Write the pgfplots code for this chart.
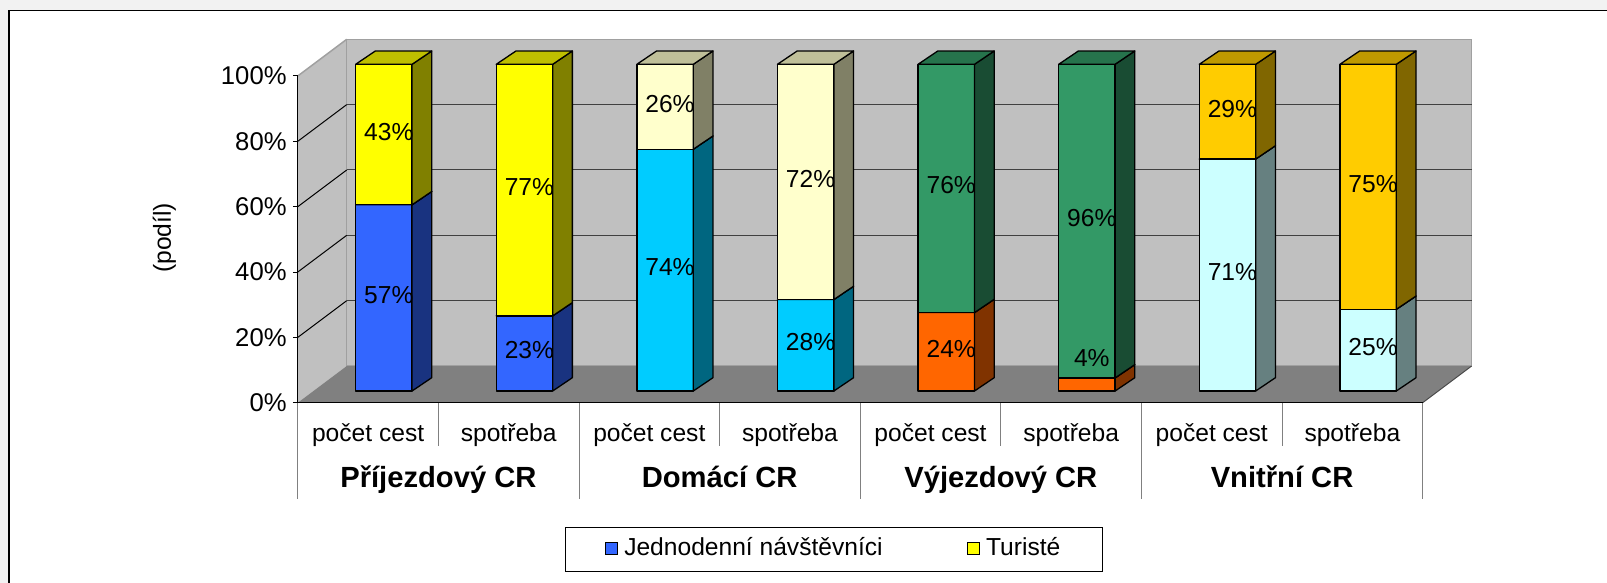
\documentclass[border=0pt]{standalone}
\usepackage{fontspec}
\setmainfont{Liberation Sans}
\usepackage{pgfplots}
\pgfplotsset{compat=1.18}

\definecolor{cB}{HTML}{3366FF}
\definecolor{cY}{HTML}{FFFF00}
\definecolor{cC}{HTML}{00CCFF}
\definecolor{cLY}{HTML}{FFFFCC}
\definecolor{cG}{HTML}{339966}
\definecolor{cO}{HTML}{FF6600}
\definecolor{cLC}{HTML}{CCFFFF}
\definecolor{cGo}{HTML}{FFCC00}
\definecolor{wallc}{HTML}{C0C0C0}
\definecolor{floorc}{HTML}{808080}
\definecolor{wedge}{HTML}{A0A0A0}

\newcommand{\fs}{\fontsize{7}{8.4}\selectfont}
\newcommand{\fst}{\fontsize{7.3}{8.8}\selectfont}

% faces of one segment of a 3D bar: #1 category, #2 bottom, #3 top, #4 colour
\newcommand{\segshape}[4]{%
  \pgfmathsetmacro{\xl}{#1+0.5-0.2006+0.112}%
  \pgfmathsetmacro{\xr}{#1+0.5+0.2006+0.112}%
  \pgfmathsetmacro{\xrr}{\xr+0.140}%
  \pgfmathsetmacro{\xll}{\xl+0.140}%
  \pgfmathsetmacro{\yb}{#2+3.58}%
  \pgfmathsetmacro{\yt}{#3+3.58}%
  \pgfmathsetmacro{\ybb}{\yb+4.07}%
  \pgfmathsetmacro{\ytt}{\yt+4.07}%
  \addplot[forget plot, fill=#4, draw=black, line width=0.13mm, line join=round]
    coordinates {(\xl,\yb) (\xr,\yb) (\xr,\yt) (\xl,\yt)} -- cycle;
  \addplot[forget plot, fill=#4!50!black, draw=black, line width=0.13mm, line join=round]
    coordinates {(\xr,\yb) (\xrr,\ybb) (\xrr,\ytt) (\xr,\yt)} -- cycle;
  \addplot[forget plot, fill=#4!75!black, draw=black, line width=0.13mm, line join=round]
    coordinates {(\xl,\yt) (\xr,\yt) (\xrr,\ytt) (\xll,\ytt)} -- cycle;
}
% label of a segment: #1 category, #2 bottom, #3 top, #4 extra shift, #5 text
\newcommand{\seglabel}[5]{%
  \pgfmathsetmacro{\lx}{#1+0.5+0.147}%
  \pgfmathsetmacro{\ly}{(#2+#3)/2+4.48+#4}%
  \edef\dolabel{\noexpand\node[font=\noexpand\fs, inner sep=0pt] at (axis cs:\lx,\ly) {#5};}%
  \dolabel
}
% a stacked bar: #1 category, #2 lower value, #3 upper value, #4 lower colour, #5 upper colour, #6 shift of lower label
\newcommand{\stackbar}[6]{%
  \segshape{#1}{0}{#2}{#4}%
  \segshape{#1}{#2}{100}{#5}%
  \seglabel{#1}{0}{#2}{#6}{#2\%}%
  \seglabel{#1}{#2}{100}{0}{#3\%}%
}

\begin{document}
\begin{tikzpicture}
\useasboundingbox (0,0) rectangle (16.07,5.83);
\clip (0,0) rectangle (16.07,5.83);
\fill[black!5] (0,0) rectangle (16.07,5.83);
\filldraw[fill=white, draw=black, line width=0.12mm] (0.09,-0.5) rectangle (16.6,5.723);

\begin{axis}[
  at={(2.978cm,1.803cm)}, anchor=south west,
  width=11.249cm, height=3.267cm, scale only axis,
  xmin=0, xmax=8, ymin=0, ymax=100,
  clip=false, axis on top,
  axis x line*=bottom, axis y line*=left,
  axis line style={black, line width=0.1mm},
  ytick={0,20,40,60,80,100},
  yticklabel={\pgfmathprintnumber{\tick}\%},
  /pgf/number format/assume math mode=true,
  tick align=outside, major tick length=0.5mm,
  y tick style={black, line width=0.1mm},
  xtick={0.5,1.5,2.5,3.5,4.5,5.5,6.5,7.5},
  xticklabels={počet cest, spotřeba, počet cest, spotřeba, počet cest, spotřeba, počet cest, spotřeba},
  x tick style={draw=none},
  tick label style={font=\fs},
  xticklabel style={anchor=base, yshift=-3.4mm, inner sep=0pt},
  yticklabel style={font=\fst, anchor=east, inner sep=0pt, xshift=-0.55mm},
  ylabel={(podíl)},
  ylabel style={font=\fs, at={(axis description cs:-0.1187,0.505)}, anchor=center},
  legend columns=2,
  legend image code/.code={\draw[#1] (0mm,-0.52mm) rectangle (1.18mm,0.66mm);},
  legend style={at={(axis description cs:0.4768,-0.449)}, anchor=center,
    draw=black, line width=0.1mm, font=\fs, inner xsep=3.95mm, inner ysep=0.5mm,
    nodes={inner xsep=0.3mm, inner ysep=0.5mm},
    /tikz/every odd column/.append style={column sep=0.35mm},
    /tikz/every even column/.append style={column sep=8.1mm}},
]
% side wall
\addplot[forget plot, fill=wallc, draw=none] coordinates {(0,0) (0.3478,11.23) (0.3478,111.23) (0,100)} -- cycle;
% back wall
\addplot[forget plot, fill=wallc, draw=wedge, line width=0.12mm] coordinates {(0.3478,11.23) (8.3478,11.23) (8.3478,111.23) (0.3478,111.23)} -- cycle;
% floor
\addplot[forget plot, fill=floorc, draw=none] coordinates {(0,0) (8,0) (8.3478,11.23) (0.3478,11.23)} -- cycle;
\addplot[forget plot, draw=black!70, line width=0.1mm] coordinates {(8,0) (8.3478,11.23)};
% side wall top edge
\addplot[forget plot, draw=wedge, line width=0.15mm] coordinates {(0,100) (0.3478,111.23)};
% gridlines
\addplot[forget plot, draw=black!75, line width=0.1mm] coordinates {(0.3478,31.23) (8.3478,31.23)};
\addplot[forget plot, draw=black!75, line width=0.1mm] coordinates {(0.3478,51.23) (8.3478,51.23)};
\addplot[forget plot, draw=black!75, line width=0.1mm] coordinates {(0.3478,71.23) (8.3478,71.23)};
\addplot[forget plot, draw=black!75, line width=0.1mm] coordinates {(0.3478,91.23) (8.3478,91.23)};
\addplot[forget plot, draw=black, line width=0.1mm] coordinates {(0,20) (0.3478,31.23)};
\addplot[forget plot, draw=black, line width=0.1mm] coordinates {(0,40) (0.3478,51.23)};
\addplot[forget plot, draw=black, line width=0.1mm] coordinates {(0,60) (0.3478,71.23)};
\addplot[forget plot, draw=black, line width=0.1mm] coordinates {(0,80) (0.3478,91.23)};

% bars
\stackbar{0}{57}{43}{cB}{cY}{0}
\stackbar{1}{23}{77}{cB}{cY}{0}
\stackbar{2}{74}{26}{cC}{cLY}{0}
\stackbar{3}{28}{72}{cC}{cLY}{0}
\stackbar{4}{24}{76}{cO}{cG}{0}
\stackbar{5}{4}{96}{cO}{cG}{7.15}
\stackbar{6}{71}{29}{cLC}{cGo}{0}
\stackbar{7}{25}{75}{cLC}{cGo}{0}

% category separators
\draw[floorc, line width=0.1mm] (axis cs:1,0) -- (axis cs:1,-13.36);
\draw[floorc, line width=0.1mm] (axis cs:3,0) -- (axis cs:3,-13.36);
\draw[floorc, line width=0.1mm] (axis cs:5,0) -- (axis cs:5,-13.36);
\draw[floorc, line width=0.1mm] (axis cs:7,0) -- (axis cs:7,-13.36);
\draw[floorc, line width=0.1mm] (axis cs:0,0) -- (axis cs:0,-29.36);
\draw[floorc, line width=0.1mm] (axis cs:2,0) -- (axis cs:2,-29.36);
\draw[floorc, line width=0.1mm] (axis cs:4,0) -- (axis cs:4,-29.36);
\draw[floorc, line width=0.1mm] (axis cs:6,0) -- (axis cs:6,-29.36);
\draw[floorc, line width=0.1mm] (axis cs:8,0) -- (axis cs:8,-29.36);
\node[anchor=base, font=\fontsize{8.3}{10}\selectfont\bfseries, inner sep=0pt] at (axis cs:1,-25.9) {Příjezdový CR};
\node[anchor=base, font=\fontsize{8.3}{10}\selectfont\bfseries, inner sep=0pt] at (axis cs:3,-25.9) {Domácí CR};
\node[anchor=base, font=\fontsize{8.3}{10}\selectfont\bfseries, inner sep=0pt] at (axis cs:5,-25.9) {Výjezdový CR};
\node[anchor=base, font=\fontsize{8.3}{10}\selectfont\bfseries, inner sep=0pt] at (axis cs:7,-25.9) {Vnitřní CR};

\addlegendimage{fill=cB, draw=black, line width=0.1mm}
\addlegendentry{Jednodenní návštěvníci}
\addlegendimage{fill=cY, draw=black, line width=0.1mm}
\addlegendentry{Turisté}
\end{axis}
\end{tikzpicture}
\end{document}
